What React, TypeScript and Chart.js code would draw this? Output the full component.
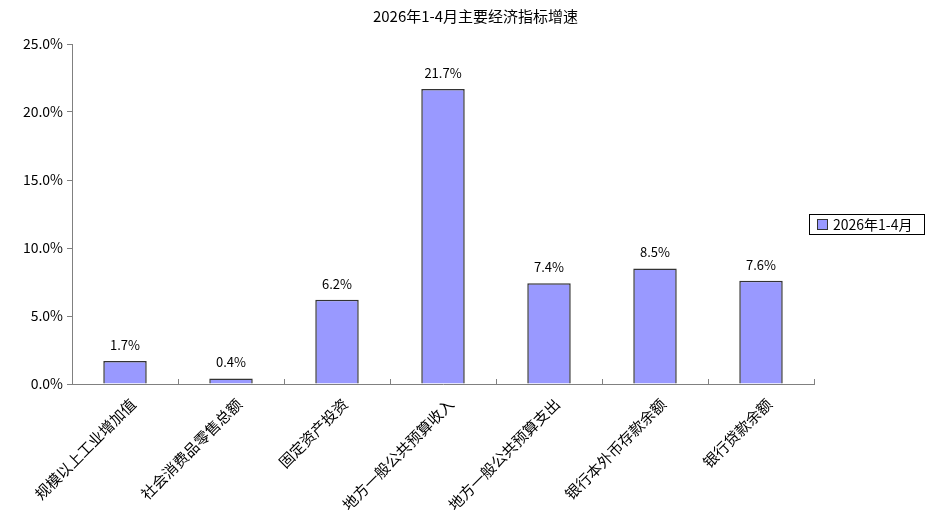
import React, { useEffect, useRef } from "react";
import { Chart, registerables } from "chart.js";

Chart.register(...registerables);

const title = "2026年1-4月主要经济指标增速";
const seriesName = "2026年1-4月";
const categories = [
  "规模以上工业增加值",
  "社会消费品零售总额",
  "固定资产投资",
  "地方一般公共预算收入",
  "地方一般公共预算支出",
  "银行本外币存款余额",
  "银行贷款余额",
];
const values = [1.7, 0.4, 6.2, 21.7, 7.4, 8.5, 7.6];
const yMin = 0;
const yMax = 25;
const yStep = 5;

const FONT = "'Noto Sans CJK SC', 'Noto Sans', sans-serif";
const BAR_FILL = "#9999FF";
const BAR_BORDER = "#333333";
const AXIS = "#808080";

const valueLabels = {
  id: "valueLabels",
  afterDatasetsDraw(chart: any) {
    const ctx = chart.ctx;
    const meta = chart.getDatasetMeta(0);
    ctx.save();
    ctx.font = `13px ${FONT}`;
    ctx.fillStyle = "#000";
    ctx.textAlign = "center";
    ctx.textBaseline = "middle";
    meta.data.forEach((el: any, i: number) => {
      ctx.fillText(values[i].toFixed(1) + "%", el.x, el.y - 16);
    });
    ctx.restore();
  },
};

const titleAndLegend = {
  id: "titleAndLegend",
  afterDraw(chart: any) {
    const ctx = chart.ctx;
    ctx.save();
    // title centred over the whole canvas
    ctx.fillStyle = "#000";
    ctx.font = `15px ${FONT}`;
    ctx.textAlign = "center";
    ctx.textBaseline = "middle";
    ctx.fillText(title, chart.width / 2, 16);

    // boxed legend
    const x0 = chart.chartArea.right - 5;
    const y0 = 214;
    const w = 115;
    const h = 20;
    ctx.fillStyle = "#fff";
    ctx.fillRect(x0, y0, w, h);
    ctx.strokeStyle = "#000";
    ctx.lineWidth = 1;
    ctx.strokeRect(x0 + 0.5, y0 + 0.5, w, h);
    ctx.fillStyle = BAR_FILL;
    ctx.fillRect(x0 + 8, y0 + 5, 10, 10);
    ctx.strokeStyle = BAR_BORDER;
    ctx.strokeRect(x0 + 8.5, y0 + 5.5, 10, 10);
    ctx.fillStyle = "#000";
    ctx.font = `14px ${FONT}`;
    ctx.textAlign = "left";
    ctx.textBaseline = "middle";
    ctx.fillText(seriesName, x0 + 24, y0 + h / 2 + 1);
    ctx.restore();
  },
};

export default function App() {
  const ref = useRef<HTMLCanvasElement | null>(null);

  useEffect(() => {
    if (!ref.current) return;
    const chart = new Chart(ref.current, {
      type: "bar",
      data: {
        labels: categories,
        datasets: [
          {
            label: seriesName,
            data: values,
            backgroundColor: BAR_FILL,
            borderColor: BAR_BORDER,
            borderWidth: 1.5,
            categoryPercentage: 1,
            barPercentage: 0.41,
          },
        ],
      },
      options: {
        animation: false,
        responsive: false,
        devicePixelRatio: 1,
        layout: { padding: { left: 0, right: 137, top: 44, bottom: 0 } },
        plugins: {
          legend: { display: false },
          tooltip: { enabled: false },
          title: { display: false },
        },
        scales: {
          x: {
            offset: true,
            grid: {
              offset: true,
              drawOnChartArea: false,
              drawTicks: true,
              tickLength: -5,
              color: AXIS,
            },
            border: { display: true, color: AXIS, width: 1 },
            ticks: {
              color: "#000",
              font: { family: FONT, size: 15 },
              minRotation: 45,
              maxRotation: 45,
              padding: 16,
              labelOffset: 8,
              autoSkip: false,
            },
            afterFit(scale: any) {
              scale.height = 140;
            },
          },
          y: {
            min: yMin,
            max: yMax,
            grid: {
              drawOnChartArea: false,
              drawTicks: true,
              tickLength: 5,
              color: AXIS,
            },
            border: { display: true, color: AXIS, width: 1 },
            ticks: {
              stepSize: yStep,
              color: "#000",
              font: { family: FONT, size: 14 },
              padding: 4,
              callback: (v: any) => Number(v).toFixed(1) + "%",
            },
            afterFit(scale: any) {
              scale.width = 72;
            },
          },
        },
      },
      plugins: [valueLabels, titleAndLegend],
    });
    return () => chart.destroy();
  }, []);

  return (
    <div style={{ position: "fixed", left: 0, top: 0, width: 951, height: 524, background: "#fff" }}>
      <canvas ref={ref} width={951} height={524} style={{ width: 951, height: 524 }} />
    </div>
  );
}
